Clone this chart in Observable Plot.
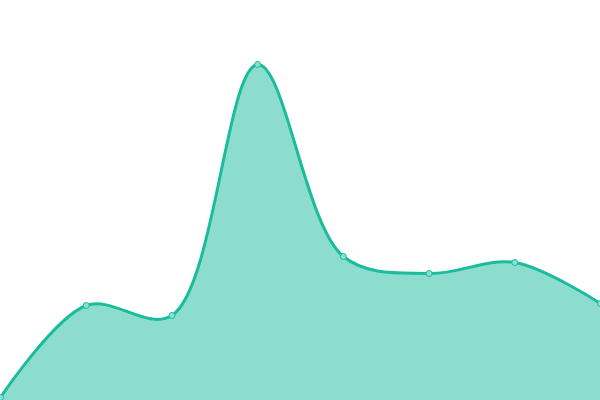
<!DOCTYPE html>
<html><head><meta charset="utf-8">
<script src="https://cdn.jsdelivr.net/npm/d3@7"></script>
<script src="https://cdn.jsdelivr.net/npm/@observablehq/plot@0.6"></script>
<style>html,body{margin:0;padding:0;background:#fff;overflow:hidden}</style>
</head><body><div id="chart"></div>
<script>
const xs = [0, 1, 2, 3, 4, 5, 6, 7];
const values = [3, 95, 85, 336, 144, 127, 138, 97];
const data = xs.map((x, i) => ({x, y: values[i]}));
const chart = Plot.plot({
  width: 600, height: 400,
  margin: 0,
  x: {domain: [0, 7], axis: null},
  y: {domain: [0, 400], axis: null},
  marks: [
    Plot.areaY(data, {x: "x", y: "y", curve: "catmull-rom", fill: "#1abc9c", fillOpacity: 0.5}),
    Plot.line(data, {x: "x", y: "y", curve: "catmull-rom", stroke: "#1abc9c", strokeWidth: 3}),
    Plot.dot(data, {x: "x", y: "y", r: 3, fill: "#8ae0d0", stroke: "#1abc9c", strokeWidth: 1})
  ]
});
document.getElementById("chart").appendChild(chart);
</script></body></html>
